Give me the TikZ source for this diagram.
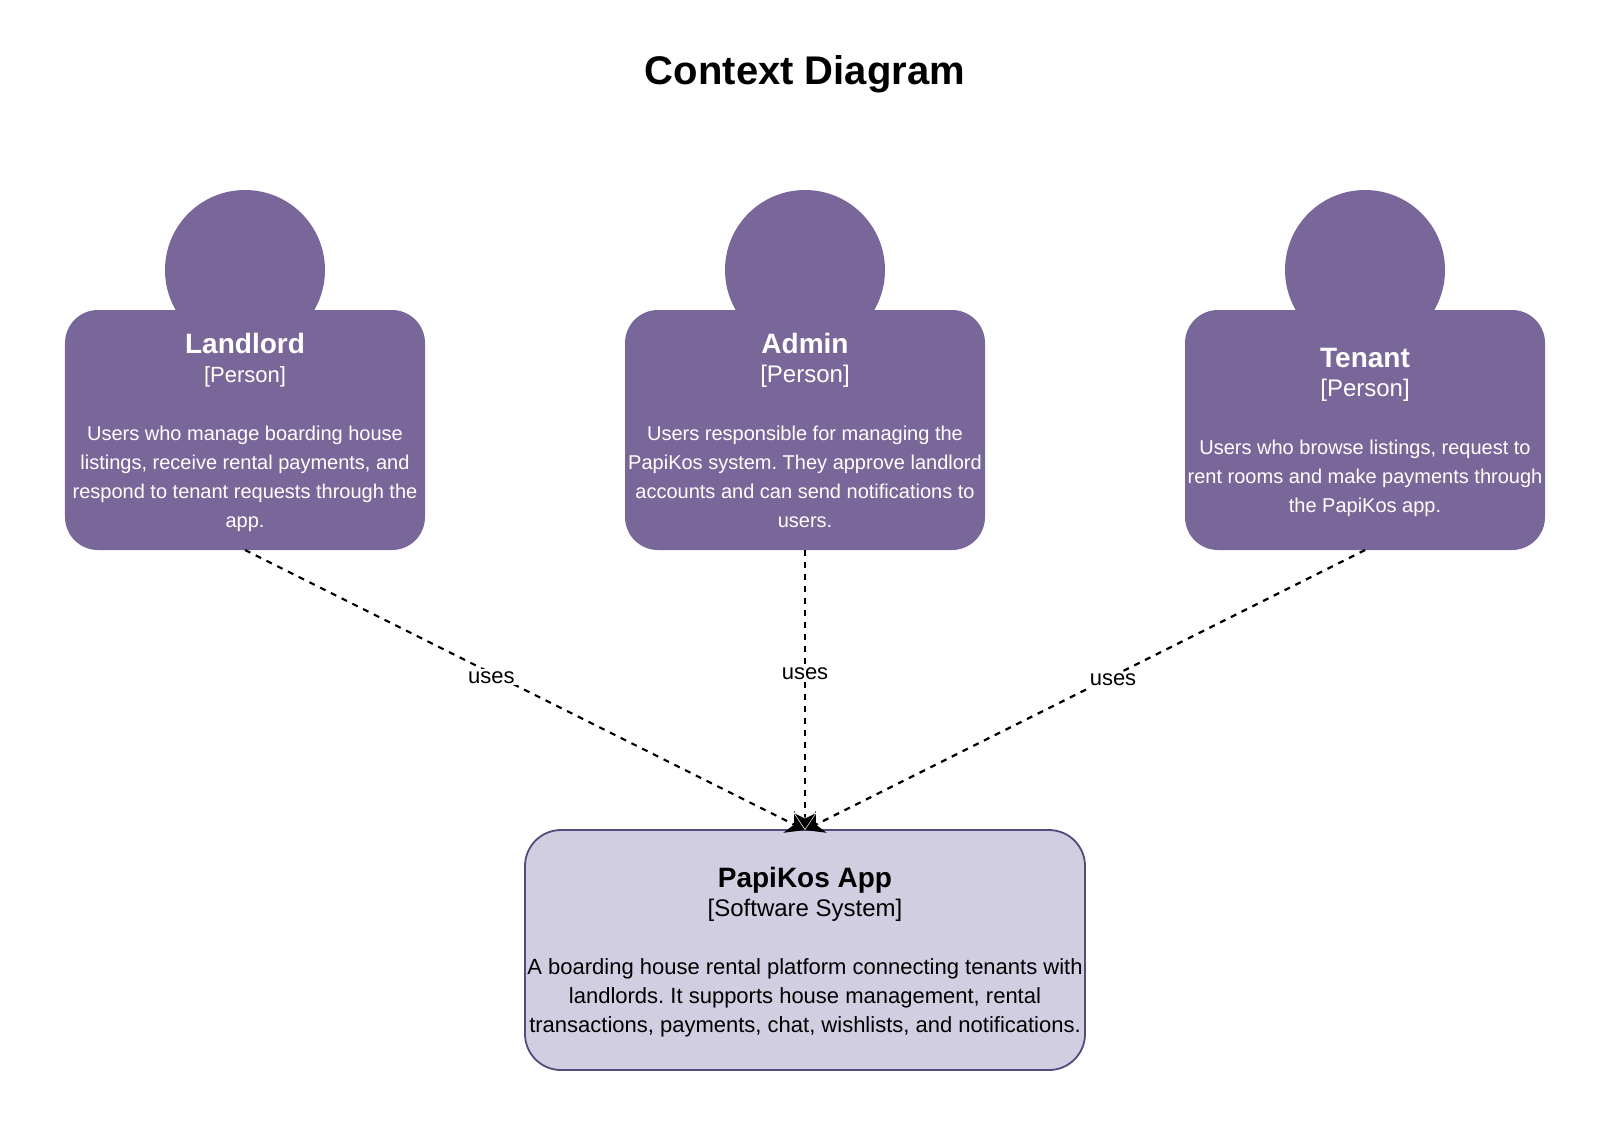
\documentclass[tikz,border=0pt]{standalone}
\usepackage{fontspec}
\setmainfont{Liberation Sans}
\frenchspacing
\usepackage{tikz}
\usetikzlibrary{arrows.meta, positioning}

\definecolor{personfill}{HTML}{7A6799}
\definecolor{systemfill}{HTML}{D1CEE1}
\definecolor{systemline}{HTML}{534A7D}

\newcommand{\namefont}{\fontsize{28bp}{29bp}\selectfont\bfseries}
\newcommand{\typefont}{\fontsize{24bp}{29bp}\selectfont}
\newcommand{\smalltypefont}{\fontsize{22bp}{29bp}\selectfont}
\newcommand{\descfont}{\fontsize{20bp}{29bp}\selectfont}
\newcommand{\sysfont}{\fontsize{22bp}{29bp}\selectfont}

\begin{document}
\begin{tikzpicture}[
    x=1bp, y=-1bp,
    title/.style={font=\fontsize{40bp}{46bp}\selectfont\bfseries, inner sep=0pt, outer sep=0pt},
    head/.style={circle, minimum size=160bp, inner sep=0pt, outer sep=0pt, fill=personfill},
    person/.style={rectangle, rounded corners=33bp, minimum width=360bp, minimum height=240bp, inner sep=0pt, outer sep=0pt, text depth=0pt, align=center, font=\descfont, text=white, fill=personfill},
    system/.style={rectangle, rounded corners=36bp, minimum width=560bp, minimum height=240bp, inner sep=0pt, outer sep=0pt, text depth=0pt, align=center, font=\sysfont, draw=systemline, line width=1.8bp, fill=systemfill},
    arrow/.style={line width=2.2bp, dash pattern=on 6bp off 6bp, -{Stealth[length=18bp,width=24bp]}},
    toparrow/.style={arrow, -{Stealth[length=18bp,width=24bp,color=white,fill=black,line width=0.5bp]}},
    uses/.style={font=\fontsize{22bp}{26bp}\selectfont, fill=white, inner sep=2bp},
]

    \useasboundingbox [fill=white] (0,0) rectangle (1618,1132);

    % title
    \node (title) [title] at (805,74) {Context Diagram};

    % people
    \node (admin_head) [head] at (805,270) {};
    \node (landlord_head) [head, left=400bp of admin_head] {};
    \node (tenant_head) [head, right=400bp of admin_head] {};

    \node (landlord) [person, below=-40bp of landlord_head]
      {{\namefont Landlord}\\ {\smalltypefont [Person]}\\[29bp] Users who manage boarding house\\ listings, receive rental payments, and\\ respond to tenant requests through the\\ app.};
    \node (admin) [person, below=-40bp of admin_head]
      {{\namefont Admin}\\ {\typefont [Person]}\\[29bp] Users responsible for managing the\\ PapiKos system. They approve landlord\\ accounts and can send notifications to\\ users.};
    \node (tenant) [person, below=-40bp of tenant_head]
      {{\namefont Tenant}\\ {\typefont [Person]}\\[29bp] Users who browse listings, request to\\ rent rooms and make payments through\\ the PapiKos app.};

    % software system
    \node (papikos) [system, below=280bp of admin]
      {{\namefont PapiKos App}\\ {\typefont [Software System]}\\[29bp] A boarding house rental platform connecting tenants with\\ landlords. It supports house management, rental\\ transactions, payments, chat, wishlists, and notifications.};

    \draw [arrow] (landlord.south) -- node (uses_landlord) [uses, pos=0.44, yshift=-4bp] {uses} (papikos.north);
    \draw [arrow] (tenant.south) -- node (uses_tenant) [uses, pos=0.45, yshift=-4bp] {uses} (papikos.north);
    \draw [toparrow] (admin.south) -- node (uses_admin) [uses, pos=0.44] {uses} (papikos.north);

\end{tikzpicture}
\end{document}
